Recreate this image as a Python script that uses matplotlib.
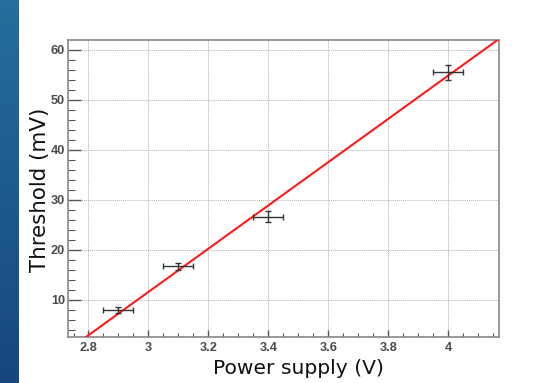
import numpy as np
import matplotlib
matplotlib.use("Agg")
import matplotlib.pyplot as plt
from matplotlib.ticker import MultipleLocator
from matplotlib.colors import LinearSegmentedColormap

# Measurements: threshold vs. power supply voltage
supply_v = [2.9, 3.1, 3.4, 4.0]
supply_err = [0.05, 0.05, 0.05, 0.05]
threshold_mv = [7.9, 16.7, 26.6, 55.5]
threshold_err = [0.6, 0.7, 1.1, 1.5]

# Linear fit parameters (mV per V, mV)
fit_slope = 43.25
fit_intercept = -118.2

x_ticks = [2.8, 3.0, 3.2, 3.4, 3.6, 3.8, 4.0]
x_tick_labels = ["2.8", "3", "3.2", "3.4", "3.6", "3.8", "4"]
y_ticks = [10, 20, 30, 40, 50, 60]

W, H = 543, 383
fig = plt.figure(figsize=(W / 100, H / 100), dpi=100)
fig.patch.set_facecolor("white")

# blue side band
band = fig.add_axes([0, 0, 19 / W, 1])
cmap = LinearSegmentedColormap.from_list("band", ["#246f9b", "#174680"])
band.imshow(np.linspace(0, 1, 256).reshape(-1, 1), aspect="auto", cmap=cmap,
            extent=[0, 1, 0, 1])
band.set_axis_off()

ax = fig.add_axes([68 / W, 46 / H, 431 / W, 297 / H])
ax.set_xlim(2.7316, 4.170)
ax.set_ylim(2.54, 61.94)

ax.grid(True, which="major", color="#b0b0b0", linestyle=(0, (1, 1)), linewidth=0.7)
ax.set_axisbelow(True)

fx = np.linspace(2.7316, 4.170, 200)
ax.plot(fx, fit_slope * fx + fit_intercept, color="#ff1a1a", linewidth=1.5, zorder=3)

ax.errorbar(supply_v, threshold_mv, xerr=supply_err, yerr=threshold_err,
            fmt="none", ecolor="#333333", elinewidth=1.0, capsize=2.0,
            capthick=1.0, zorder=4)

ax.set_xticks(x_ticks)
ax.set_xticklabels(x_tick_labels)
ax.set_yticks(y_ticks)
ax.xaxis.set_minor_locator(MultipleLocator(0.05))
ax.yaxis.set_minor_locator(MultipleLocator(2))

ax.tick_params(axis="both", which="both", direction="in", colors="#555555",
               labelcolor="#4a4a4a", top=False, right=False)
ax.tick_params(axis="y", which="major", length=9.5, width=1.0, pad=2)
ax.tick_params(axis="y", which="minor", length=5, width=0.8)
ax.tick_params(axis="x", which="major", length=5, width=1.0, pad=3.5)
ax.tick_params(axis="x", which="minor", length=2.8, width=0.8)
for lab in ax.get_xticklabels() + ax.get_yticklabels():
    lab.set_fontfamily("Liberation Sans")
    lab.set_fontsize(9.2)
    lab.set_fontweight("bold")

for sp in ax.spines.values():
    sp.set_color("#888888")
    sp.set_linewidth(1.2)

fig.text(298 / W, 1 - 369 / H, "Power supply (V)", ha="center", va="center",
         fontsize=14.6, color="#111111", family="DejaVu Sans")
fig.text(40 / W, 1 - 190 / H, "Threshold (mV)", ha="center", va="center",
         rotation=90, fontsize=15.4, color="#111111", family="DejaVu Sans")

fig.savefig("out.png", dpi=100)
